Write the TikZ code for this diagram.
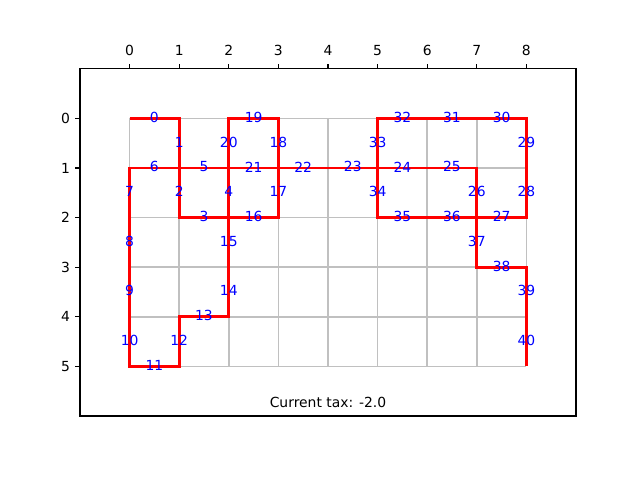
\documentclass[tikz,border=0pt]{standalone}
\usepackage{fontspec}
\setmainfont{DejaVu Sans}
\definecolor{silvergrid}{HTML}{C0C0C0}
\definecolor{pathred}{HTML}{FF0000}
\definecolor{lblblue}{HTML}{0000FF}
\begin{document}
\begin{tikzpicture}[x=35.712pt,y=-35.712pt,
  gridline/.style={draw=silvergrid,line width=1.2pt},
  redline/.style={draw=pathred,line width=1.9pt,line join=miter},
  frameline/.style={draw=black,line width=0.8pt},
  tickmark/.style={draw=black,line width=0.8pt},
  ticklbl/.style={font=\fontsize{10}{12}\selectfont,inner sep=0pt,text=black},
  edgelbl/.style={font=\fontsize{10}{12}\selectfont,inner sep=0pt,text=lblblue,yshift=0.8pt},
  caption/.style={font=\fontsize{10}{12}\selectfont,inner sep=0pt,text=black,yshift=0.8pt}]
\useasboundingbox (-2.6129,-2.3871) rectangle (10.2903,7.2903);
% grid points
\foreach \i in {0,...,8}{\foreach \j in {0,...,5}{\coordinate (p\i-\j) at (\i,\j);}}
% grid
\foreach \i in {0,...,8}{\draw[gridline] (p\i-0) -- (p\i-5);}
\foreach \j in {0,...,5}{\draw[gridline] (p0-\j) -- (p8-\j);}
% red boundary
\draw[redline] (p0-0) -- (p1-0) -- (p1-2) -- (p3-2) -- (p3-0) -- (p2-0) -- (p2-4) -- (p1-4) -- (p1-5) -- (p0-5) -- (p0-1) -- (p7-1) -- (p7-3) -- (p8-3) -- (p8-5);
\draw[redline] (p5-0) -- (p8-0) -- (p8-2) -- (p5-2) -- cycle;
% edge labels
\foreach \n/\x/\y in {0/0.5/0,1/1/0.5,2/1/1.5,3/1.5/2,4/2/1.5,5/1.5/1,6/0.5/1,7/0/1.5,8/0/2.5,9/0/3.5,10/0/4.5,11/0.5/5,12/1/4.5,13/1.5/4,14/2/3.5,15/2/2.5,16/2.5/2,17/3/1.5,18/3/0.5,19/2.5/0,20/2/0.5,21/2.5/1,22/3.5/1,23/4.5/1,24/5.5/1,25/6.5/1,26/7/1.5,27/7.5/2,28/8/1.5,29/8/0.5,30/7.5/0,31/6.5/0,32/5.5/0,33/5/0.5,34/5/1.5,35/5.5/2,36/6.5/2,37/7/2.5,38/7.5/3,39/8/3.5,40/8/4.5}
  {\node[edgelbl] (e\n) at (\x,\y) {\n};}
% axes frame
\coordinate (fa) at (-1,-1);
\coordinate (fb) at (9,6);
\draw[frameline] (fa) rectangle (fb);
% ticks
\foreach \i in {0,...,8}{
  \coordinate (xt\i) at (\i,-1);
  \draw[tickmark] (xt\i) -- ++(0pt,3.5pt);
  \node[ticklbl,anchor=base] (xl\i) at ([yshift=9.3pt]xt\i) {\i};}
\foreach \j in {0,...,5}{
  \coordinate (yt\j) at (-1,\j);
  \draw[tickmark] (yt\j) -- ++(-3.5pt,0pt);
  \node[ticklbl,anchor=east] (yl\j) at ([xshift=-7pt]yt\j) {\j};}
\node[caption] (tax) at (4,5.75) {Current tax: -2.0};
\end{tikzpicture}
\end{document}
